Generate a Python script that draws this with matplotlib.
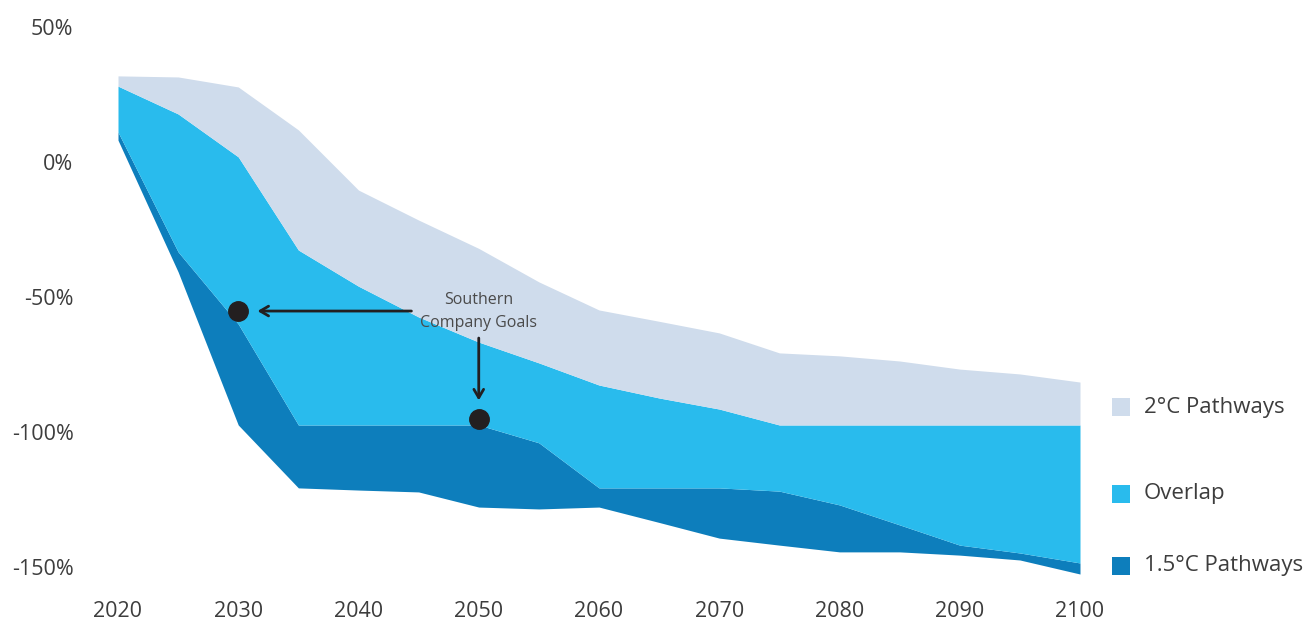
import matplotlib
matplotlib.use("Agg")
import matplotlib.pyplot as plt
from matplotlib.patches import Rectangle

plt.rcParams["font.family"] = ["Open Sans", "DejaVu Sans"]

# Emission pathways, % change vs. baseline
years = [2020, 2025, 2030, 2035, 2040, 2045, 2050, 2055, 2060, 2065,
         2070, 2075, 2080, 2085, 2090, 2095, 2100]
upper_2c = [31.9, 31.5, 27.8, 11.9, -10.4, -21.5, -32.0, -44.4, -54.8, -59.0,
            -63.3, -70.7, -71.8, -73.7, -76.7, -78.5, -81.5]
upper_15c = [28.1, 17.8, 1.9, -32.6, -46.0, -57.4, -66.7, -74.4, -82.6, -87.4,
             -91.5, -97.4, -97.4, -97.4, -97.4, -97.4, -97.4]
lower_2c = [11.1, -33.3, -60.0, -97.4, -97.4, -97.4, -97.4, -104.0, -120.7, -120.7,
            -120.7, -121.9, -127.0, -134.4, -141.9, -144.8, -148.5]
lower_15c = [8.1, -40.7, -97.4, -120.7, -121.5, -122.2, -127.8, -128.5, -127.8, -133.5,
             -139.3, -141.9, -144.4, -144.4, -145.6, -147.4, -152.6]

goal_years = [2030, 2050]
goal_values = [-55.2, -95.2]

x_ticks = [2020, 2030, 2040, 2050, 2060, 2070, 2080, 2090, 2100]
y_ticks = [50, 0, -50, -100, -150]
y_tick_labels = ["50%", "0%", "-50%", "-100%", "-150%"]

legend_labels = ["2°C Pathways", "Overlap", "1.5°C Pathways"]
c_light = "#CFDCEC"
c_overlap = "#29BBED"
c_dark = "#0D7EBC"
text_color = "#3d3d3d"

W, H = 1305, 621
fig = plt.figure(figsize=(W / 100, H / 100), dpi=100)
ax = fig.add_axes([118 / W, 27 / H, 962 / W, 567 / H])

ax.fill_between(years, lower_15c, lower_2c, color=c_dark, lw=0)
ax.fill_between(years, lower_2c, upper_15c, color=c_overlap, lw=0)
ax.fill_between(years, upper_15c, upper_2c, color=c_light, lw=0)

ax.plot(goal_years, goal_values, "o", color="#231F20", ms=14, zorder=5)

arrow_kw = dict(arrowstyle="->,head_length=0.6,head_width=0.35",
                color="#231F20", lw=2.0, shrinkA=0, shrinkB=0)
ax.annotate("", xy=(2031.6, -55.2), xytext=(2044.4, -55.2), arrowprops=arrow_kw)
ax.annotate("", xy=(2050.0, -88.3), xytext=(2050.0, -65.2), arrowprops=arrow_kw)
ax.text(2050.0, -55.3, "Southern\nCompany Goals", ha="center", va="center",
        fontsize=11.5, color="#4a4a4a", linespacing=1.55, zorder=6)

ax.set_xlim(2020, 2100)
ax.set_ylim(-160, 50)
ax.set_xticks(x_ticks)
ax.set_xticklabels([str(t) for t in x_ticks])
ax.set_yticks(y_ticks)
ax.set_yticklabels(y_tick_labels)
ax.tick_params(axis="both", length=0, labelsize=15.5, labelcolor=text_color)
ax.tick_params(axis="y", pad=32)
ax.tick_params(axis="x", pad=5)
for s in ax.spines.values():
    s.set_visible(False)

# Legend entries drawn in figure pixel space
legend_rows = [407, 494, 566]
legend_colors = [c_light, c_overlap, c_dark]
for label, row, col in zip(legend_labels, legend_rows, legend_colors):
    fig.patches.append(Rectangle(((1112) / W, (H - row - 9) / H), 18 / W, 18 / H,
                                 transform=fig.transFigure, color=col, lw=0))
    fig.text(1144 / W, (H - row) / H, label, ha="left", va="center",
             fontsize=16, color=text_color)

fig.savefig("out.png", dpi=100)
